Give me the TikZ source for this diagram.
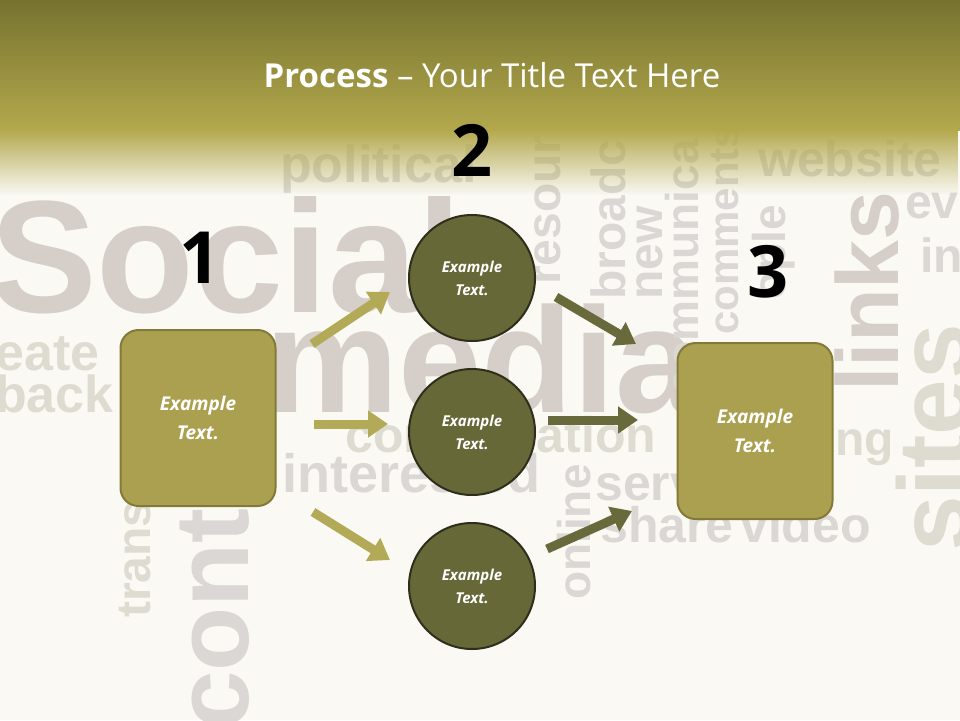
\documentclass[tikz,border=0pt]{standalone}
\usepackage{fontspec}
\setmainfont{Open Sans}
\newfontfamily\wordfont{Liberation Sans}
\usetikzlibrary{arrows.meta,fadings}
\definecolor{bg}{HTML}{FAF9F4}
\definecolor{bandtop}{HTML}{767330}
\definecolor{bandbot}{HTML}{B3A84C}
\definecolor{boxfill}{HTML}{ABA050}
\definecolor{boxline}{HTML}{847A38}
\definecolor{circfill}{HTML}{676838}
\definecolor{circline}{HTML}{2E2E1A}
\definecolor{arrlight}{HTML}{B3AA58}
\definecolor{arrdark}{HTML}{686A3C}
\definecolor{wA}{HTML}{D6CFC9}
\definecolor{wB}{HTML}{DEDCD1}
\definecolor{wC}{HTML}{DAD7D4}
\tikzset{
 word/.style={font=\wordfont\bfseries, inner sep=0pt, anchor=base west},
 sidebox/.style={draw=boxline, line width=2pt, fill=boxfill, rounded corners=18pt, minimum width=155pt, minimum height=176pt, text=white, font=\bfseries\itshape\fontsize{19}{29}\selectfont, align=center},
 circ/.style={circle, draw=circline, line width=2pt, fill=circfill, minimum size=126pt, text=white, font=\bfseries\itshape\fontsize{15}{23}\selectfont, align=center},
 num/.style={font=\bfseries\fontsize{72}{72}\selectfont, text=black},
 arrL/.style={draw=arrlight, line width=9pt, -{Triangle[length=20pt,width=26pt]}},
 arrD/.style={draw=arrdark, line width=9pt, -{Triangle[length=20pt,width=26pt]}},
}
\begin{document}
\begin{tikzpicture}[x=1pt,y=-1pt]
\useasboundingbox (0,0) rectangle (960,720);
\fill[bg] (0,0) rectangle (960,720);
% word cloud
\node[word, text=wA, font=\wordfont\bfseries\fontsize{160}{160}\selectfont] at (-10,312) {Social};
\node[word, text=wA, font=\wordfont\bfseries\fontsize{150}{150}\selectfont] at (265,412) {media};
\node[word, text=wC, font=\wordfont\bfseries\fontsize{52}{52}\selectfont] at (280,182) {political};
\node[word, text=wC, font=\wordfont\bfseries\fontsize{50}{50}\selectfont] at (758,176) {website};
\node[word, text=wC, font=\wordfont\bfseries\fontsize{48}{48}\selectfont] at (905,218) {ev};
\node[word, text=wC, font=\wordfont\bfseries\fontsize{48}{48}\selectfont] at (920,272) {in};
\node[word, text=wB, font=\wordfont\bfseries\fontsize{52}{52}\selectfont] at (-5,370) {eate};
\node[word, text=wB, font=\wordfont\bfseries\fontsize{52}{52}\selectfont] at (-5,412) {back};
\node[word, text=wC, font=\wordfont\bfseries\fontsize{54}{54}\selectfont] at (282,492) {interested};
\node[word, text=wB, font=\wordfont\bfseries\fontsize{50}{50}\selectfont] at (345,452) {conversation};
\node[word, text=wC, font=\wordfont\bfseries\fontsize{50}{50}\selectfont] at (595,500) {serv};
\node[word, text=wC, font=\wordfont\bfseries\fontsize{50}{50}\selectfont] at (600,542) {share};
\node[word, text=wC, font=\wordfont\bfseries\fontsize{50}{50}\selectfont] at (740,542) {video};
\node[word, text=wB, font=\wordfont\bfseries\fontsize{48}{48}\selectfont] at (835,455) {ng};
\node[word, text=wA, font=\wordfont\bfseries\fontsize{88}{88}\selectfont, rotate=90] at (898,392) {links};
\node[word, text=wB, font=\wordfont\bfseries\fontsize{100}{100}\selectfont, rotate=90] at (968,552) {sites};
\node[word, text=wC, font=\wordfont\bfseries\fontsize{105}{105}\selectfont, rotate=90] at (248,730) {cont};
\node[word, text=wB, font=\wordfont\bfseries\fontsize{48}{48}\selectfont, rotate=90] at (150,618) {trans};
\node[word, text=wC, font=\wordfont\bfseries\fontsize{46}{46}\selectfont, rotate=90] at (590,600) {online};
\node[word, text=wC, font=\wordfont\bfseries\fontsize{48}{48}\selectfont, rotate=90] at (560,285) {resour};
\node[word, text=wC, font=\wordfont\bfseries\fontsize{48}{48}\selectfont, rotate=90] at (625,300) {broadc};
\node[word, text=wC, font=\wordfont\bfseries\fontsize{48}{48}\selectfont, rotate=90] at (662,300) {new};
\node[word, text=wC, font=\wordfont\bfseries\fontsize{46}{46}\selectfont, rotate=90] at (698,395) {communica};
\node[word, text=wC, font=\wordfont\bfseries\fontsize{42}{42}\selectfont, rotate=90] at (738,335) {comments};
\node[word, text=wC, font=\wordfont\bfseries\fontsize{46}{46}\selectfont, rotate=90] at (785,300) {ople};
% title band
\shade[top color=bandtop, bottom color=bandbot] (0,0) rectangle (960,130);
\fill[bandbot, path fading=south] (0,129) rectangle (960,195);
\node[text=white, font=\fontsize{33}{40}\selectfont] (title) at (492,75) {\textbf{Process} – Your Title Text Here};
% numbers
\node[num] (n1) at (200,258) {1};
\node[num] (n2) at (472,150) {2};
\node[num] (n3) at (768,272) {3};
% nodes
\node[sidebox] (b1) at (198,418) {Example\\Text.};
\node[sidebox] (b3) at (755,431) {Example\\Text.};
\node[circ] (c1) at (472,278) {Example\\Text.};
\node[circ] (c2) at (472,432) {Example\\Text.};
\node[circ] (c3) at (472,586) {Example\\Text.};
% arrow ends
\coordinate (a1s) at (312,344); \coordinate (a1e) at (390,292);
\coordinate (a2s) at (314,424); \coordinate (a2e) at (388,424);
\coordinate (a3s) at (313,512); \coordinate (a3e) at (390,560);
\coordinate (d1s) at (556,297); \coordinate (d1e) at (636,344);
\coordinate (d2s) at (548,420); \coordinate (d2e) at (638,420);
\coordinate (d3s) at (547,549); \coordinate (d3e) at (632,511);
\draw[arrL] (a1s) -- (a1e);
\draw[arrL] (a2s) -- (a2e);
\draw[arrL] (a3s) -- (a3e);
\draw[arrD] (d1s) -- (d1e);
\draw[arrD] (d2s) -- (d2e);
\draw[arrD] (d3s) -- (d3e);
\end{tikzpicture}
\end{document}
